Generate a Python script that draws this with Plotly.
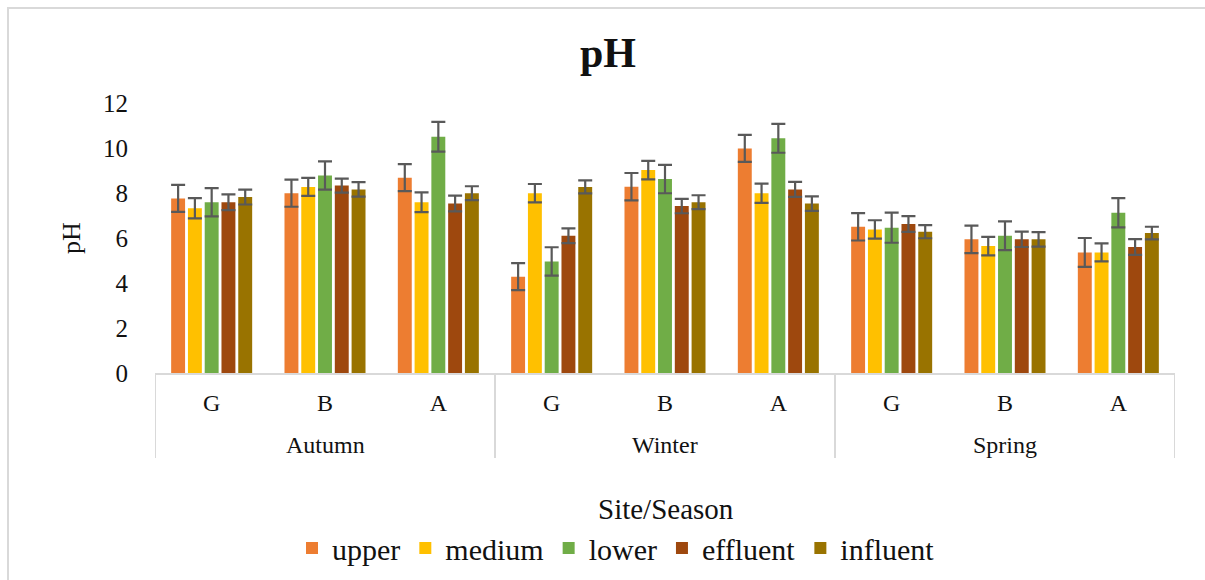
import plotly.graph_objects as go

seasons = ["Autumn", "Winter", "Spring"]
sites = ["G", "B", "A"]
series_names = ["upper", "medium", "lower", "effluent", "influent"]
colors = ["#ED7D31", "#FFC000", "#70AD47", "#9E480E", "#997300"]

# values per series, order: Autumn G,B,A, Winter G,B,A, Spring G,B,A
upper = [7.76, 7.99, 8.68, 4.28, 8.28, 9.98, 6.50, 5.94, 5.36]
medium = [7.32, 8.27, 7.59, 7.99, 9.02, 7.99, 6.38, 5.64, 5.36]
lower = [7.59, 8.78, 10.50, 4.96, 8.62, 10.43, 6.46, 6.10, 7.12]
effluent = [7.59, 8.33, 7.53, 6.10, 7.42, 8.16, 6.62, 5.94, 5.60]
influent = [7.82, 8.16, 7.99, 8.27, 7.59, 7.53, 6.28, 5.94, 6.22]

upper_err = [0.60, 0.60, 0.60, 0.60, 0.61, 0.60, 0.61, 0.61, 0.64]
medium_err = [0.45, 0.40, 0.44, 0.41, 0.41, 0.43, 0.41, 0.41, 0.40]
lower_err = [0.63, 0.63, 0.66, 0.63, 0.63, 0.64, 0.67, 0.64, 0.65]
effluent_err = [0.35, 0.31, 0.35, 0.33, 0.32, 0.33, 0.35, 0.34, 0.35]
influent_err = [0.33, 0.32, 0.31, 0.29, 0.31, 0.32, 0.29, 0.32, 0.28]

values = [upper, medium, lower, effluent, influent]
errors = [upper_err, medium_err, lower_err, effluent_err, influent_err]

keys = [f"{s} {t}" for s in seasons for t in sites]
inner = [t for _ in seasons for t in sites]

FONT = "Liberation Serif, Times New Roman, serif"
TXT = "#111111"
GRID = "#d9d9d9"

fig = go.Figure()
for name, col, v, e in zip(series_names, colors, values, errors):
    fig.add_trace(go.Bar(
        x=keys, y=v, name=name,
        marker=dict(color=col, line=dict(width=0)),
        error_y=dict(type="data", array=e, visible=True,
                     color="#595959", thickness=2.2, width=7),
    ))

W, H = 1205, 580
L, R, T, B = 155, 30, 103, 207
pw, ph = W - L - R, H - T - B


def px_x(x):
    return (x - L) / pw


def px_y(y):
    return (H - B - y) / ph


n_in = len(sites)
shapes = [dict(type="rect", xref="paper", yref="paper",
               x0=px_x(8), x1=px_x(1300), y0=px_y(700), y1=px_y(8),
               line=dict(color=GRID, width=2), fillcolor="rgba(0,0,0,0)", layer="below")]
for i in range(len(seasons) + 1):
    xd = i * n_in - 0.5
    shapes.append(dict(type="line", xref="x", yref="paper", x0=xd, x1=xd,
                       y0=0, y1=px_y(458), line=dict(color=GRID, width=2)))

annotations = []
for i, s in enumerate(seasons):
    annotations.append(dict(text=s, xref="x", yref="paper", x=keys[i * n_in + n_in // 2],
                            y=px_y(445), xanchor="center", yanchor="middle", showarrow=False,
                            font=dict(family=FONT, size=24, color=TXT)))
annotations.append(dict(text="Site/Season", xref="paper", yref="paper", x=px_x(666),
                        y=px_y(509), xanchor="center", yanchor="middle", showarrow=False,
                        font=dict(family=FONT, size=29, color=TXT)))

fig.update_layout(
    width=W, height=H,
    margin=dict(l=L, r=R, t=T, b=B, autoexpand=False),
    paper_bgcolor="white", plot_bgcolor="white",
    barmode="group", bargap=0.26, bargroupgap=0.17,
    font=dict(family=FONT, color=TXT, size=24),
    title=dict(text="<b>pH</b>", font=dict(family=FONT, size=42, color="#111"),
               x=608 / W, xanchor="center", y=1 - 52 / H, yanchor="middle"),
    xaxis=dict(type="category", range=[-0.5, len(keys) - 0.5],
               tickvals=keys, ticktext=inner,
               showline=True, linecolor=GRID, linewidth=2, showgrid=False,
               tickfont=dict(family=FONT, size=24, color=TXT),
               ticks="", ticklabelstandoff=7, automargin=False),
    yaxis=dict(range=[0, 12], dtick=2, showgrid=False, zeroline=False, showline=False,
               tickfont=dict(family=FONT, size=25, color=TXT),
               ticks="", ticklabelstandoff=26, automargin=False,
               title=dict(text="pH", font=dict(family=FONT, size=26, color=TXT),
                          standoff=14)),
    legend=dict(orientation="h", x=px_x(616), xanchor="center", y=px_y(548), yanchor="middle",
                font=dict(family=FONT, size=30, color=TXT),
                itemwidth=30, tracegroupgap=0, bgcolor="rgba(0,0,0,0)"),
    showlegend=True,
    shapes=shapes,
    annotations=annotations,
)

fig.write_html("out.html", config={"displayModeBar": False},
               post_script="document.body.style.margin='0px';")
